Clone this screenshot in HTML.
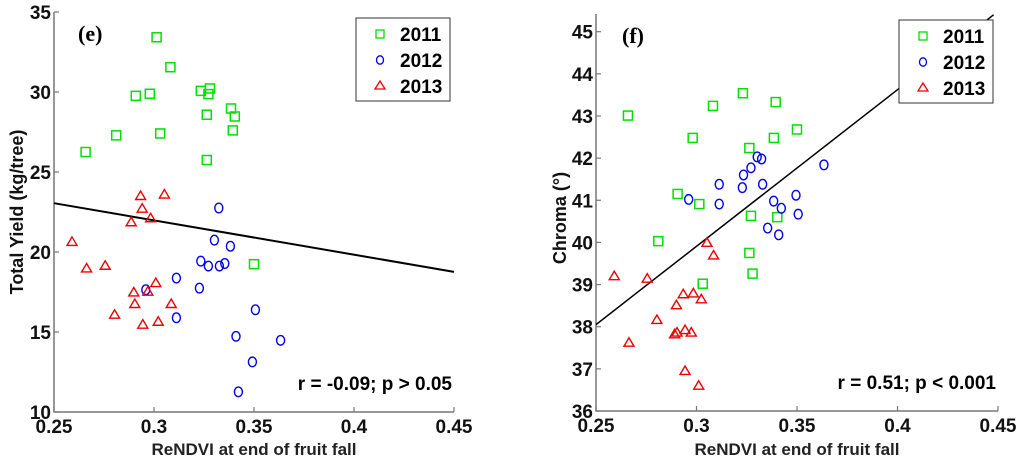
<!DOCTYPE html>
<html><head><meta charset="utf-8"><style>
html,body{margin:0;padding:0;background:#fff;width:1024px;height:465px;overflow:hidden}
svg{display:block}
text{font-family:"Liberation Sans",Arial,sans-serif}
text.serif{font-family:"Liberation Serif",serif}
</style></head><body>
<svg id="s" width="1024" height="465"></svg>
<script>
const xTicks=[0.25,0.3,0.35,0.4,0.45];
const xTickLabels=["0.25","0.3","0.35","0.4","0.45"];
const yTicksE=[10,15,20,25,30,35];
const yTicksF=[36,37,38,39,40,41,42,43,44,45];
const e2011x=[0.3013,0.3082,0.2909,0.2979,0.3234,0.3280,0.3272,0.3264,0.3385,0.3404,0.3394,0.2811,0.3031,0.2658,0.3264,0.3500];
const e2011y=[33.42,31.55,29.76,29.89,30.07,30.22,29.87,28.58,28.97,28.47,27.60,27.29,27.41,26.25,25.75,19.24];
const e2012x=[0.3324,0.3302,0.3382,0.3234,0.3272,0.3327,0.3354,0.3112,0.3227,0.2959,0.3112,0.3507,0.3410,0.3633,0.3492,0.3422];
const e2012y=[22.75,20.74,20.36,19.43,19.12,19.12,19.28,18.37,17.74,17.64,15.89,16.39,14.73,14.48,13.13,11.26];
const e2013x=[0.2933,0.3052,0.2941,0.2983,0.2886,0.2590,0.2663,0.2756,0.3009,0.2899,0.2969,0.2904,0.3086,0.2803,0.2944,0.3021];
const e2013y=[23.50,23.59,22.71,22.11,21.86,20.63,18.97,19.14,18.06,17.47,17.52,16.75,16.75,16.08,15.46,15.64];
const eLineX=[0.25,0.45];
const eLineY=[23.05,18.76];
const f2011x=[0.2659,0.3082,0.3231,0.3394,0.2981,0.3385,0.3500,0.3263,0.2906,0.3014,0.3271,0.3402,0.2810,0.3263,0.3279,0.3031];
const f2011y=[43.01,43.24,43.54,43.33,42.48,42.48,42.68,42.24,41.15,40.91,40.63,40.60,40.03,39.75,39.26,39.02];
const f2012x=[0.3302,0.3324,0.3271,0.3234,0.3228,0.3113,0.3329,0.2961,0.3113,0.3384,0.3422,0.3495,0.3634,0.3506,0.3354,0.3409];
const f2012y=[42.03,41.98,41.77,41.60,41.30,41.38,41.38,41.02,40.91,40.98,40.81,41.12,41.84,40.67,40.34,40.18];
const f2013x=[0.3052,0.3085,0.2591,0.2755,0.2934,0.2984,0.3024,0.2900,0.2803,0.2891,0.2903,0.2943,0.2974,0.2664,0.2943,0.3011];
const f2013y=[39.99,39.69,39.20,39.14,38.77,38.79,38.65,38.51,38.16,37.82,37.86,37.92,37.86,37.62,36.95,36.60];
const fLineX=[0.25,0.4478];
const fLineY=[38.05,45.40];

const svg=document.getElementById('s');
const NS='http://www.w3.org/2000/svg';
function mk(tag,attrs,parent){const el=document.createElementNS(NS,tag);for(const k in attrs)el.setAttribute(k,attrs[k]);(parent||svg).appendChild(el);return el;}

function chart(o){
  const g=mk('g',{});
  
  
  const sx=v=>o.x0+(v-0.25)/0.2*(o.x1-o.x0);
  const sy=v=>o.yb+(v-o.ymin)/(o.ymax-o.ymin)*(o.yt-o.yb);
  const ax=mk('path',{d:`M${o.x0},${o.top}V${o.yb}H${o.x1}`,fill:'none',stroke:'#777','stroke-width':1.5},g);
  
  
  xTicks.forEach((t,i)=>{
    const X=sx(t);
    mk('line',{x1:X,x2:X,y1:o.yb,y2:o.yb-5,stroke:'#777','stroke-width':1.2},g);
    const tx=mk('text',{x:X,y:o.yb+21,'text-anchor':'middle','font-size':19,'font-weight':'bold',fill:'#111'},g);
    tx.textContent=xTickLabels[i];
    
    
  });
  o.yTicks.forEach(t=>{
    const Y=sy(t);
    mk('line',{x1:o.x0,x2:o.x0+5,y1:Y,y2:Y,stroke:'#777','stroke-width':1.2},g);
    const tx=mk('text',{x:o.x0-3,y:Y+7,'text-anchor':'end','font-size':19,'font-weight':'bold',fill:'#111'},g);
    tx.textContent=String(t);
    
    
  });
  const ln=mk('line',{x1:sx(o.lx[0]),y1:sy(o.ly[0]),x2:sx(o.lx[1]),y2:sy(o.ly[1]),stroke:'#000','stroke-width':o.lw},g);
  
  
  o.s11x.forEach((v,i)=>{
    const r=mk('rect',{x:sx(v)-4.5,y:sy(o.s11y[i])-4.5,width:9,height:9,fill:'none',stroke:'#00e000','stroke-width':1.5},g);
    
    
  });
  o.s12x.forEach((v,i)=>{
    const c=mk('ellipse',{cx:sx(v),cy:sy(o.s12y[i]),rx:4,ry:4.8,fill:'none',stroke:'#0000ee','stroke-width':1.4},g);
    
    
  });
  o.s13x.forEach((v,i)=>{
    const X=sx(v),Y=sy(o.s13y[i]);
    const p=mk('path',{d:`M${X},${Y-5}L${X+5},${Y+3.5}L${X-5},${Y+3.5}Z`,fill:'none',stroke:'#ee0000','stroke-width':1.4},g);
    
    
  });
  const pl=mk('text',{x:o.x0+o.plx,y:o.top+29,'font-size':22,'font-weight':'bold',fill:'#000','class':'serif'},g);
  pl.textContent=o.panel;
  
  
  const st=mk('text',{x:o.x1-2,y:o.yb-22,'text-anchor':'end','font-size':19,'font-weight':'bold',fill:'#000'},g);
  st.textContent=o.stat;
  
  
  const xl=mk('text',{x:(o.x0+o.x1)/2,y:455,'text-anchor':'middle','font-size':17,'font-weight':'bold',fill:'#222'},g);
  xl.textContent='ReNDVI at end of fruit fall';
  
  
  const yl=mk('text',{x:0,y:0,'text-anchor':'middle','font-size':18,'font-weight':'bold',fill:'#111',transform:`translate(${o.ylx},${o.yly}) rotate(-90)`},g);
  yl.textContent=o.ytitle;
  
  
  const lg=mk('g',{},g);
  
  
  mk('rect',{x:o.lgx,y:o.lgy,width:94,height:83,fill:'#fff',stroke:'#333','stroke-width':1},lg);
  const yrs=['2011','2012','2013'];
  yrs.forEach((yr,i)=>{
    const cy=o.lgy+16+i*26,cx=o.lgx+24;
    if(i==0)mk('rect',{x:cx-4,y:cy-4,width:8,height:8,fill:'none',stroke:'#00e000','stroke-width':1.3},lg);
    if(i==1)mk('ellipse',{cx:cx,cy:cy,rx:3.5,ry:4.2,fill:'none',stroke:'#0000ee','stroke-width':1.3},lg);
    if(i==2)mk('path',{d:`M${cx},${cy-5}L${cx+5},${cy+3}L${cx-5},${cy+3}Z`,fill:'none',stroke:'#ee0000','stroke-width':1.3},lg);
    const t=mk('text',{x:o.lgx+44,y:cy+7,'font-size':19,'font-weight':'bold',fill:'#000'},lg);
    t.textContent=yr;
    
    
  });
}
chart({name:'chart-e',x0:54,x1:454,top:12,yt:12,yb:412,ymin:10,ymax:35,yTicks:yTicksE,
  s11x:e2011x,s11y:e2011y,s12x:e2012x,s12y:e2012y,s13x:e2013x,s13y:e2013y,lx:eLineX,ly:eLineY,lw:2,
  panel:'(e)',plx:24,stat:'r = -0.09; p > 0.05',ytitle:'Total Yield (kg/tree)',ylx:23,yly:212,lgx:356,lgy:18});
chart({name:'chart-f',x0:596,x1:998,top:14,yt:31.7,yb:411,ymin:36,ymax:45,yTicks:yTicksF,
  s11x:f2011x,s11y:f2011y,s12x:f2012x,s12y:f2012y,s13x:f2013x,s13y:f2013y,lx:fLineX,ly:fLineY,lw:1.5,
  panel:'(f)',plx:26,stat:'r = 0.51; p < 0.001',ytitle:'Chroma (°)',ylx:566,yly:218,lgx:899,lgy:20});
</script>
</body></html>
